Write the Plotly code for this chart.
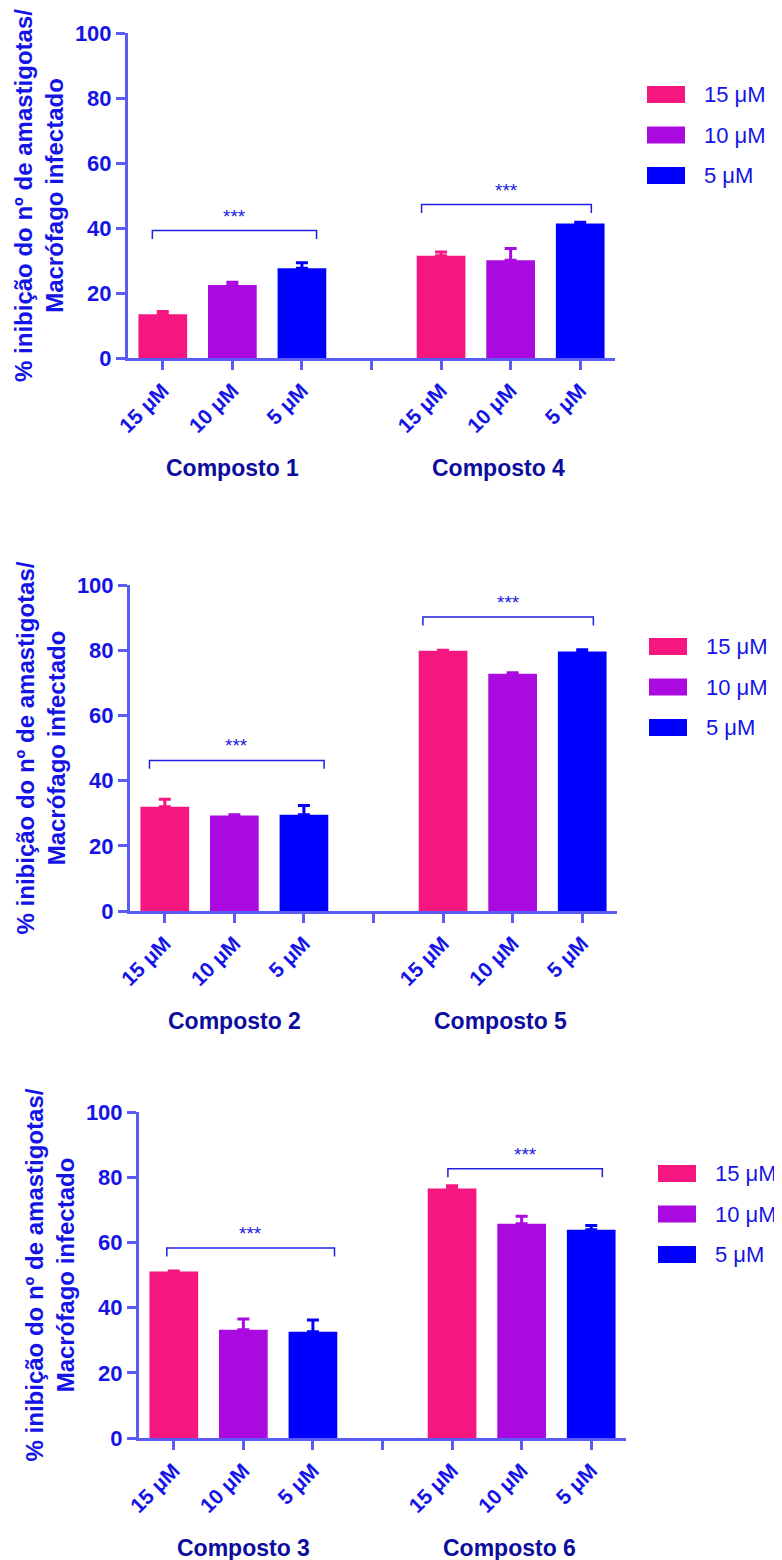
import plotly.graph_objects as go

# page is 782x1560; the browser body has an 8px margin, so the figure fills the rest
OFF = 8
W, H = 782 - OFF, 1560 - OFF

# ---------------- data ----------------
concentrations = ["15 μM", "10 μM", "5 μM"]
compostos = ["Composto 1", "Composto 4", "Composto 2", "Composto 5", "Composto 3", "Composto 6"]

mean_15 = [13.5, 31.5, 32.0, 79.8, 51.1, 76.5]
mean_10 = [22.5, 30.1, 29.3, 72.8, 33.2, 65.7]
mean_5 = [27.6, 41.4, 29.5, 79.6, 32.6, 63.9]

sem_15 = [0.8, 1.1, 2.3, 0.2, 0.1, 0.9]
sem_10 = [0.8, 3.6, 0.2, 0.3, 3.3, 2.3]
sem_5 = [1.7, 0.4, 2.9, 0.5, 3.6, 1.3]

significance = ["***", "***", "***", "***", "***", "***"]
bracket_y = [39.2, 47.2, 46.2, 90.2, 58.3, 82.6]
bracket_left = [-0.15, -0.28, -0.22, -0.29, -0.10, -0.06]
bracket_right = [0.21, 0.16, 0.29, 0.16, 0.31, 0.16]

y_ticks = [0, 20, 40, 60, 80, 100]
y_title = "% inibição do nº de amastigotas/<br>Macrófago infectado"

# ---------------- style ----------------
colors = ["#f5177f", "#aa0ae0", "#0000ff"]
axis_color = "#5b5bf5"
tick_text_color = "#1414e6"
title_color = "#0c0c9e"
font_family = "Liberation Sans, Arial, sans-serif"

# plot areas in page pixels: (left, right, top, bottom)
panels = [(128, 615, 33, 358), (130, 617, 585, 911), (139, 626, 1112, 1438)]


def px_x(p):
    return (p - OFF) / W


def px_y(p):
    return 1 - (p - OFF) / H


means = [mean_15, mean_10, mean_5]
sems = [sem_15, sem_10, sem_5]

fig = go.Figure()
annotations = []
shapes = []

for r, (L, R, T, B) in enumerate(panels):
    xa = "x" if r == 0 else f"x{r + 1}"
    ya = "y" if r == 0 else f"y{r + 1}"
    # bars
    for i, conc in enumerate(concentrations):
        xs = [g * 4 + i for g in range(2)]
        ys = [means[i][2 * r + g] for g in range(2)]
        es = [sems[i][2 * r + g] for g in range(2)]
        fig.add_trace(go.Bar(
            x=xs, y=ys, width=0.7, name=conc,
            marker=dict(color=colors[i], line=dict(width=0)),
            error_y=dict(type="data", array=es, arrayminus=[0, 0], symmetric=False,
                         color=colors[i], thickness=3, width=6),
            xaxis=xa, yaxis=ya, showlegend=False, hoverinfo="skip",
        ))
    # brackets + stars + group titles
    for g in range(2):
        k = 2 * r + g
        x0 = g * 4 + bracket_left[k]
        x1 = g * 4 + 2 + bracket_right[k]
        by = bracket_y[k]
        fig.add_trace(go.Scatter(
            x=[x0, x0, x1, x1], y=[by - 2.6, by, by, by - 2.6], mode="lines",
            line=dict(color="#2020e0", width=1.5), xaxis=xa, yaxis=ya,
            showlegend=False, hoverinfo="skip",
        ))
        annotations.append(dict(
            x=(x0 + x1) / 2, y=by, xref=xa, yref=ya, text=significance[k],
            showarrow=False, yanchor="bottom", yshift=2,
            font=dict(family=font_family, size=19, color="#2020e0"),
        ))
        annotations.append(dict(
            x=g * 4 + 1 - 0.17 * g, y=0, xref=xa, yref=ya, text=compostos[k],
            showarrow=False, yanchor="middle", yshift=-110,
            font=dict(family=font_family, size=23, color=title_color, weight="bold"),
        ))
    # manual legend
    for i, conc in enumerate(concentrations):
        sy0 = T + 53 + i * 40.5
        sy1 = sy0 + 17
        shapes.append(dict(
            type="rect", xref="paper", yref="paper",
            x0=px_x(R + 32), x1=px_x(R + 70), y0=px_y(sy0), y1=px_y(sy1),
            fillcolor=colors[i], line=dict(width=0),
        ))
        annotations.append(dict(
            x=px_x(R + 87), y=px_y(sy0 + 8.5), xref="paper", yref="paper",
            text=conc, showarrow=False, xanchor="left", yanchor="middle",
            font=dict(family=font_family, size=22, color=tick_text_color),
        ))

    axis_common = dict(
        showline=True, linecolor=axis_color, linewidth=3,
        ticks="outside", ticklen=9, tickwidth=3, tickcolor=axis_color,
        showgrid=False, zeroline=False, automargin=False,
        tickfont=dict(family=font_family, size=22, color=tick_text_color, weight="bold"),
    )
    fig.update_layout(**{
        ("xaxis" if r == 0 else f"xaxis{r + 1}"): dict(
            axis_common, domain=[px_x(L), px_x(R)], anchor=ya,
            range=[-0.5, 6.5], tickmode="array", tickvals=list(range(7)),
            ticktext=concentrations + [""] + concentrations, tickangle=-45,
            tickfont=dict(family=font_family, size=21, color=tick_text_color, weight="bold"),
        ),
        ("yaxis" if r == 0 else f"yaxis{r + 1}"): dict(
            axis_common, domain=[px_y(B), px_y(T)], anchor=xa,
            range=[0, 100], tickmode="array", tickvals=y_ticks,
            title=dict(text=y_title, standoff=5,
                       font=dict(family=font_family, size=24, color=tick_text_color, weight="bold")),
        ),
    })

fig.update_layout(
    width=W, height=H, margin=dict(l=0, r=0, t=0, b=0, autoexpand=False),
    paper_bgcolor="white", plot_bgcolor="white",
    barmode="overlay", showlegend=False,
    annotations=annotations, shapes=shapes,
)

fig.write_html("out.html")
